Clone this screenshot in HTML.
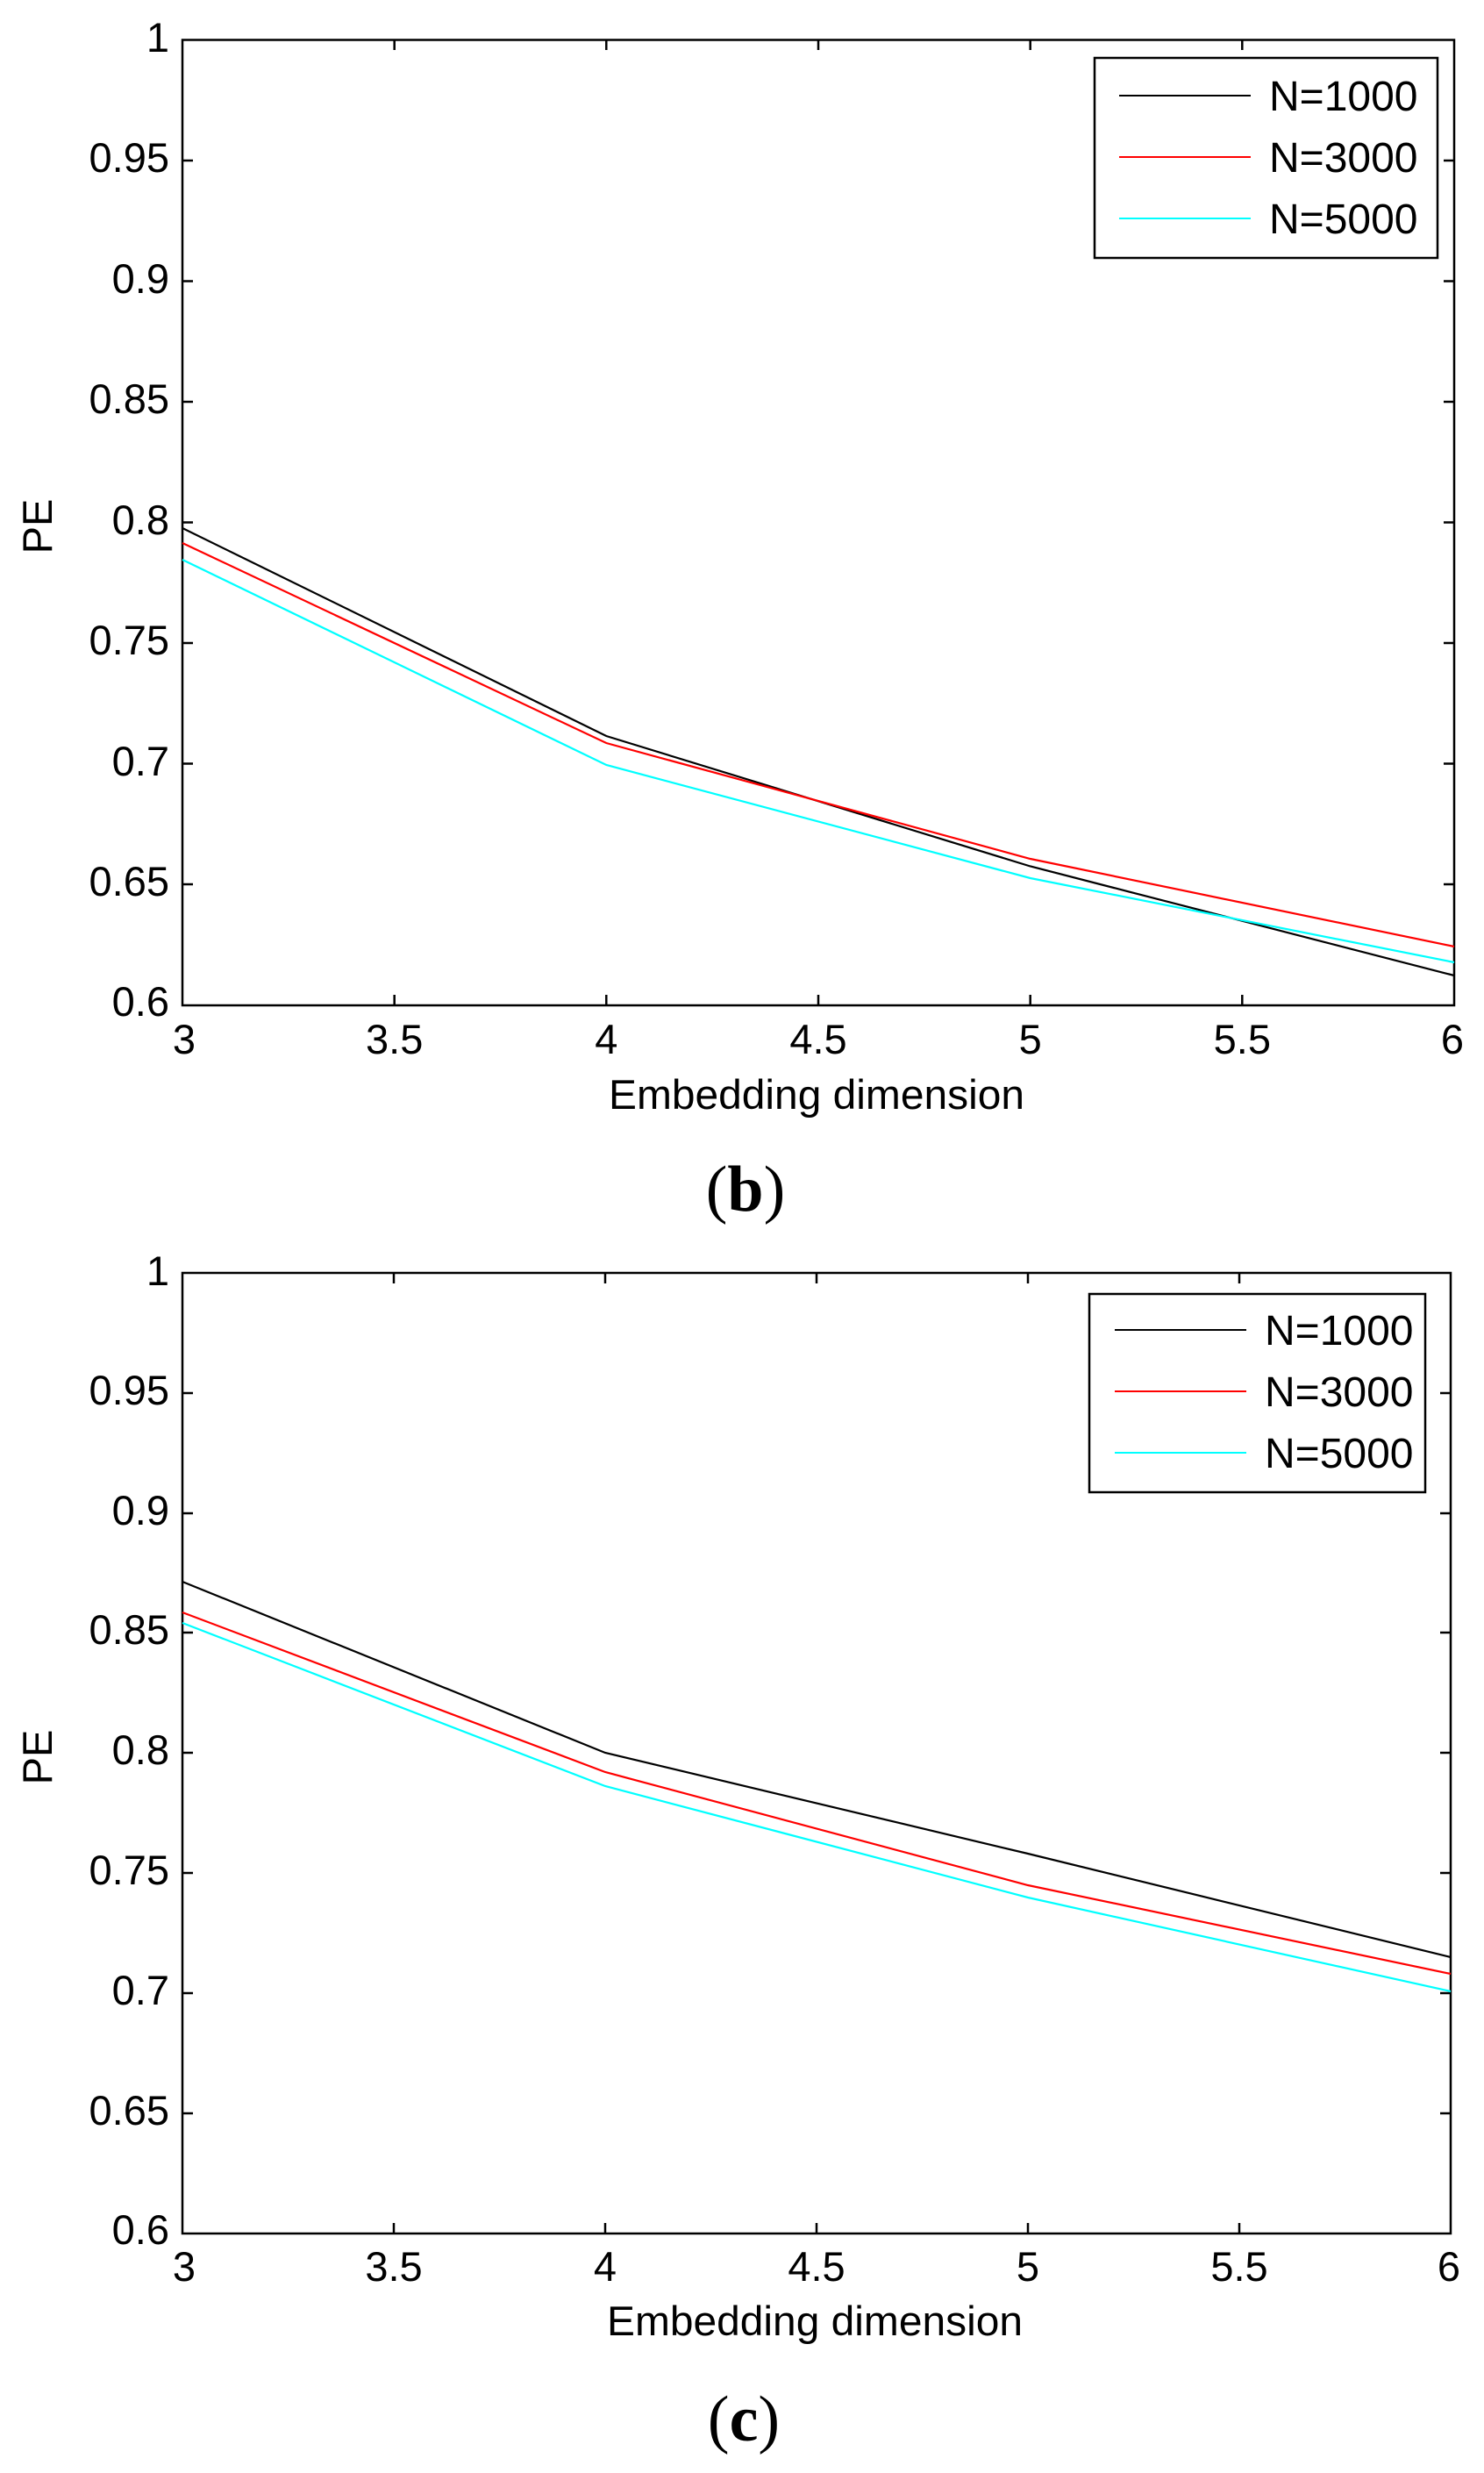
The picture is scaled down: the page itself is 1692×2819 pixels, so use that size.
<!DOCTYPE html>
<html><head><meta charset="utf-8"><style>
html,body{margin:0;padding:0;background:#fff;}
svg{display:block;}
text{font-family:"Liberation Sans",Arial,sans-serif;fill:#000;}
.t{font-size:47px;}
.yl{text-anchor:end;}
.xl{text-anchor:middle;}
.cap{font-family:"Liberation Serif",serif;font-size:74px;text-anchor:middle;}
</style></head><body>
<svg width="1692" height="2819" viewBox="0 0 1692 2819" xmlns="http://www.w3.org/2000/svg">
<rect width="1692" height="2819" fill="#fff"/>

<!-- ===== Plot (b) ===== -->
<g>
<rect x="208" y="45.5" width="1450" height="1100.5" fill="none" stroke="#000" stroke-width="2.5"/>
<g stroke="#000" stroke-width="2.5">
<line x1="208" y1="183" x2="220" y2="183"/><line x1="1658" y1="183" x2="1646" y2="183"/>
<line x1="208" y1="320.5" x2="220" y2="320.5"/><line x1="1658" y1="320.5" x2="1646" y2="320.5"/>
<line x1="208" y1="458" x2="220" y2="458"/><line x1="1658" y1="458" x2="1646" y2="458"/>
<line x1="208" y1="595.5" x2="220" y2="595.5"/><line x1="1658" y1="595.5" x2="1646" y2="595.5"/>
<line x1="208" y1="733" x2="220" y2="733"/><line x1="1658" y1="733" x2="1646" y2="733"/>
<line x1="208" y1="870.5" x2="220" y2="870.5"/><line x1="1658" y1="870.5" x2="1646" y2="870.5"/>
<line x1="208" y1="1008" x2="220" y2="1008"/><line x1="1658" y1="1008" x2="1646" y2="1008"/>
<line x1="449.7" y1="1146" x2="449.7" y2="1134"/><line x1="449.7" y1="45.5" x2="449.7" y2="57"/>
<line x1="691.3" y1="1146" x2="691.3" y2="1134"/><line x1="691.3" y1="45.5" x2="691.3" y2="57"/>
<line x1="933" y1="1146" x2="933" y2="1134"/><line x1="933" y1="45.5" x2="933" y2="57"/>
<line x1="1174.7" y1="1146" x2="1174.7" y2="1134"/><line x1="1174.7" y1="45.5" x2="1174.7" y2="57"/>
<line x1="1416.3" y1="1146" x2="1416.3" y2="1134"/><line x1="1416.3" y1="45.5" x2="1416.3" y2="57"/>
</g>
<g class="t yl">
<text x="193" y="59">1</text><text x="193" y="196">0.95</text><text x="193" y="334">0.9</text>
<text x="193" y="471">0.85</text><text x="193" y="609">0.8</text><text x="193" y="746">0.75</text>
<text x="193" y="884">0.7</text><text x="193" y="1021">0.65</text><text x="193" y="1158">0.6</text>
</g>
<g class="t xl">
<text x="210" y="1201">3</text><text x="449.7" y="1201">3.5</text><text x="691.3" y="1201">4</text>
<text x="933" y="1201">4.5</text><text x="1174.7" y="1201">5</text><text x="1416.3" y="1201">5.5</text><text x="1656" y="1201">6</text>
</g>
<text class="t xl" x="931" y="1264" textLength="474" lengthAdjust="spacingAndGlyphs">Embedding dimension</text>
<text class="t" transform="translate(59,600) rotate(-90)" text-anchor="middle">PE</text>
<g fill="none" stroke-width="2.2">
<polyline stroke="#000" points="208,602 691.3,839 1174.7,987.5 1658,1112"/>
<polyline stroke="#ff0000" points="208,619 691.3,847 1174.7,979 1658,1079"/>
<polyline stroke="#00ffff" points="208,638 691.3,872 1174.7,1001 1658,1097"/>
</g>
<rect x="1248" y="66" width="391" height="228" fill="#fff" stroke="#000" stroke-width="2.5"/>
<line x1="1276" y1="109" x2="1426" y2="109" stroke="#000" stroke-width="2"/>
<line x1="1276" y1="179" x2="1426" y2="179" stroke="#ff0000" stroke-width="2"/>
<line x1="1276" y1="249" x2="1426" y2="249" stroke="#00ffff" stroke-width="2"/>
<g style="font-size:48px">
<text x="1447" y="126">N=1000</text><text x="1447" y="196">N=3000</text><text x="1447" y="266">N=5000</text>
</g>
<text class="cap" x="850" y="1380">(<tspan font-weight="bold">b</tspan>)</text>
</g>

<!-- ===== Plot (c) ===== -->
<g>
<rect x="208" y="1451" width="1446" height="1095" fill="none" stroke="#000" stroke-width="2.5"/>
<g stroke="#000" stroke-width="2.5">
<line x1="208" y1="1588" x2="220" y2="1588"/><line x1="1654" y1="1588" x2="1642" y2="1588"/>
<line x1="208" y1="1725" x2="220" y2="1725"/><line x1="1654" y1="1725" x2="1642" y2="1725"/>
<line x1="208" y1="1861" x2="220" y2="1861"/><line x1="1654" y1="1861" x2="1642" y2="1861"/>
<line x1="208" y1="1998" x2="220" y2="1998"/><line x1="1654" y1="1998" x2="1642" y2="1998"/>
<line x1="208" y1="2135" x2="220" y2="2135"/><line x1="1654" y1="2135" x2="1642" y2="2135"/>
<line x1="208" y1="2272" x2="220" y2="2272"/><line x1="1654" y1="2272" x2="1642" y2="2272"/>
<line x1="208" y1="2409" x2="220" y2="2409"/><line x1="1654" y1="2409" x2="1642" y2="2409"/>
<line x1="449" y1="2546" x2="449" y2="2534"/><line x1="449" y1="1451" x2="449" y2="1463"/>
<line x1="690" y1="2546" x2="690" y2="2534"/><line x1="690" y1="1451" x2="690" y2="1463"/>
<line x1="931" y1="2546" x2="931" y2="2534"/><line x1="931" y1="1451" x2="931" y2="1463"/>
<line x1="1172" y1="2546" x2="1172" y2="2534"/><line x1="1172" y1="1451" x2="1172" y2="1463"/>
<line x1="1413" y1="2546" x2="1413" y2="2534"/><line x1="1413" y1="1451" x2="1413" y2="1463"/>
</g>
<g class="t yl">
<text x="193" y="1465">1</text><text x="193" y="1601">0.95</text><text x="193" y="1738">0.9</text>
<text x="193" y="1874">0.85</text><text x="193" y="2011">0.8</text><text x="193" y="2148">0.75</text>
<text x="193" y="2285">0.7</text><text x="193" y="2422">0.65</text><text x="193" y="2558">0.6</text>
</g>
<g class="t xl">
<text x="210" y="2600">3</text><text x="449" y="2600">3.5</text><text x="690" y="2600">4</text>
<text x="931" y="2600">4.5</text><text x="1172" y="2600">5</text><text x="1413" y="2600">5.5</text><text x="1652" y="2600">6</text>
</g>
<text class="t xl" x="929" y="2662" textLength="474" lengthAdjust="spacingAndGlyphs">Embedding dimension</text>
<text class="t" transform="translate(59,2003) rotate(-90)" text-anchor="middle">PE</text>
<g fill="none" stroke-width="2.2">
<polyline stroke="#000" points="208,1803 690,1998 1172,2113 1654,2231"/>
<polyline stroke="#ff0000" points="208,1838 690,2020 1172,2149 1654,2250"/>
<polyline stroke="#00ffff" points="208,1850 690,2036 1172,2163 1654,2270"/>
</g>
<rect x="1242" y="1475" width="383" height="226" fill="#fff" stroke="#000" stroke-width="2.5"/>
<line x1="1271" y1="1516" x2="1421" y2="1516" stroke="#000" stroke-width="2"/>
<line x1="1271" y1="1586" x2="1421" y2="1586" stroke="#ff0000" stroke-width="2"/>
<line x1="1271" y1="1656" x2="1421" y2="1656" stroke="#00ffff" stroke-width="2"/>
<g style="font-size:48px">
<text x="1442" y="1533">N=1000</text><text x="1442" y="1603">N=3000</text><text x="1442" y="1673">N=5000</text>
</g>
<text class="cap" x="848" y="2782">(<tspan font-weight="bold">c</tspan>)</text>
</g>
</svg>
</body></html>
